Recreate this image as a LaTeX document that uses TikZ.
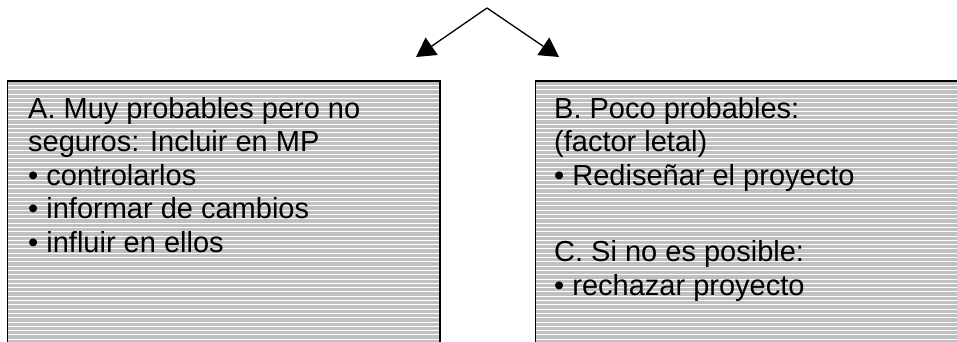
\documentclass[tikz,border=0pt]{standalone}
\usepackage{fontspec}
\setmainfont{Liberation Sans}
\usetikzlibrary{arrows.meta}
\definecolor{stripegray}{RGB}{192,192,192}
\begin{document}
\begin{tikzpicture}[x=1pt,y=-1pt,
 txt/.style={anchor=base west, inner sep=0pt, font=\fontsize{29}{34}\selectfont},
 stripebox/.style={draw=black, line width=1.5pt, fill=stripegray, anchor=north west, inner sep=0pt, minimum height=300pt,
   path picture={\foreach \i in {1,...,75}{\draw[white,line width=1pt] ([yshift=-\i*4.3pt]path picture bounding box.north west) -- ++(1000pt,0pt);}}},
 arr/.style={line width=1.3pt, -{Triangle[length=19pt,width=21pt]}}]
\clip (0,0) rectangle (957,342);
\node[stripebox, minimum width=432.5pt] (boxA) at (6.5,80.5) {};
\node[stripebox, minimum width=500pt] (boxB) at (534.5,80.5) {};
\node[txt] (a1) at (28,118) {A. Muy probables pero no};
\node[txt] (a2) at (28,151.5) {seguros: Incluir en MP};
\node[txt] (a3) at (28,185) {• controlarlos};
\node[txt] (a4) at (28,218.5) {• informar de cambios};
\node[txt] (a5) at (28,252) {• influir en ellos};
\node[txt] (b1) at (554,118) {B. Poco probables:};
\node[txt] (b2) at (554,151.5) {(factor letal)};
\node[txt] (b3) at (554,185) {• Rediseñar el proyecto};
\node[txt] (b4) at (554,261.5) {C. Si no es posible:};
\node[txt] (b5) at (554,295) {• rechazar proyecto};
\coordinate (apex) at (487,8);
\coordinate (tipA) at (416,57);
\coordinate (tipB) at (559,57);
\draw[arr] (apex) -- (tipA);
\draw[arr] (apex) -- (tipB);
\end{tikzpicture}
\end{document}
